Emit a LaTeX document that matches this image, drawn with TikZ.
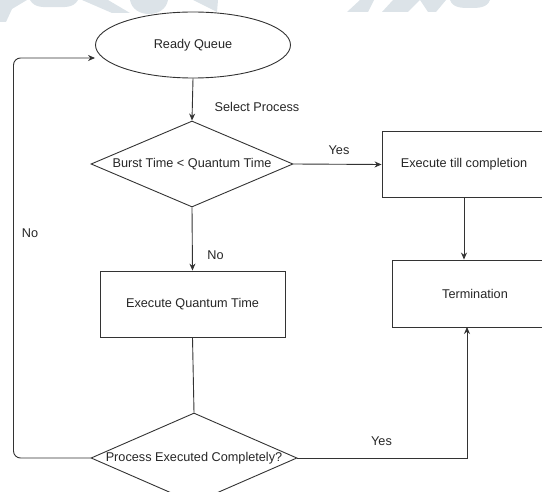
\documentclass[tikz,border=0pt]{standalone}
\usepackage{fontspec}
\setmainfont{Liberation Sans}
\usetikzlibrary{shapes.geometric,arrows.meta}
\definecolor{linegray}{HTML}{333333}
\definecolor{markgray}{HTML}{DCE3E8}
\begin{document}
\begin{tikzpicture}[x=1pt, y=-1pt,
    font=\fontsize{12.7}{15}\selectfont,
    every node/.style={text=black!85},
    terminal/.style={ellipse, draw=linegray, line width=0.9pt, minimum width=195pt, minimum height=66pt},
    procbox/.style={rectangle, draw=linegray, line width=0.9pt, minimum height=66pt},
    decision/.style={diamond, draw=linegray, line width=0.9pt, inner sep=0pt},
    flow/.style={draw=linegray, line width=0.9pt},
    tip/.style={-{Stealth[length=7pt,width=6pt]}}]
    \clip (0,0) rectangle (542,492);
    % faint background marks
    \fill[markgray] (0,0) -- (27,0) -- (12,9) -- (6,22) -- (0,22) -- cycle;
    \fill[markgray] (30,0) to[out=-60,in=180] (54,7) to[out=0,in=-120] (78,0) -- cycle;
    \fill[markgray] (82,0) -- (108,0) -- (130,13) -- (112,13) -- cycle;
    \fill[markgray] (130,0) to[out=-80,in=180] (149,14) to[out=0,in=-100] (168,0) -- cycle;
    \fill[markgray] (193,0) -- (218,0) -- (217,12) -- cycle;
    \fill[markgray] (347,12) -- (360,0) -- (374,0) -- (368,12) -- cycle;
    \fill[markgray] (393,0) -- (420,0) -- (408,12) -- (382,12) -- cycle;
    \fill[markgray] (420,0) -- (446,0) -- (436,12) -- (428,12) -- cycle;
    \fill[markgray] (450,0) to[out=-70,in=180] (470,8) to[out=0,in=-110] (490,0) -- cycle;

    % shapes
    \node[terminal] (rq) at (193,45) {Ready Queue};
    \node[decision, minimum width=202pt, minimum height=86pt,
          label=center:{Burst Time < Quantum Time}] (dq1) at (192,164) {};
    \node[procbox, minimum width=164pt] (tc) at (464,164.5) {Execute till completion};
    \node[procbox, minimum width=166pt, minimum height=67pt] (term) at (475,293.5) {Termination};
    \node[procbox, minimum width=185pt] (eq) at (192.5,304) {Execute Quantum Time};
    \node[decision, minimum width=206pt, minimum height=90pt,
          label=center:{Process Executed Completely?}] (dq2) at (194,458) {};

    % connectors
    \draw[flow, tip] (rq.south) -- (dq1.north);
    \draw[flow, tip] (dq1.east) -- (tc.west);
    \draw[flow, tip] (dq1.south) -- (eq.north);
    \draw[flow, tip] (tc.south) -- (tc.south |- term.north);
    \draw[flow] (eq.south) -- (dq2.north);
    \coordinate (termin) at (467,327);
    \draw[flow, tip] (dq2.east) -| (termin);
    \coordinate (back) at (13.5,58);
    \draw[flow, tip, rounded corners=7pt] (dq2.west) -| (back) -- (back -| rq.west);

    % labels
    \node (lsel) at (257,107) {Select Process};
    \node (lyes1) at (339,150) {Yes};
    \node (lno1) at (215.5,255) {No};
    \node (lno2) at (30,233) {No};
    \node (lyes2) at (381.5,441) {Yes};
\end{tikzpicture}
\end{document}
